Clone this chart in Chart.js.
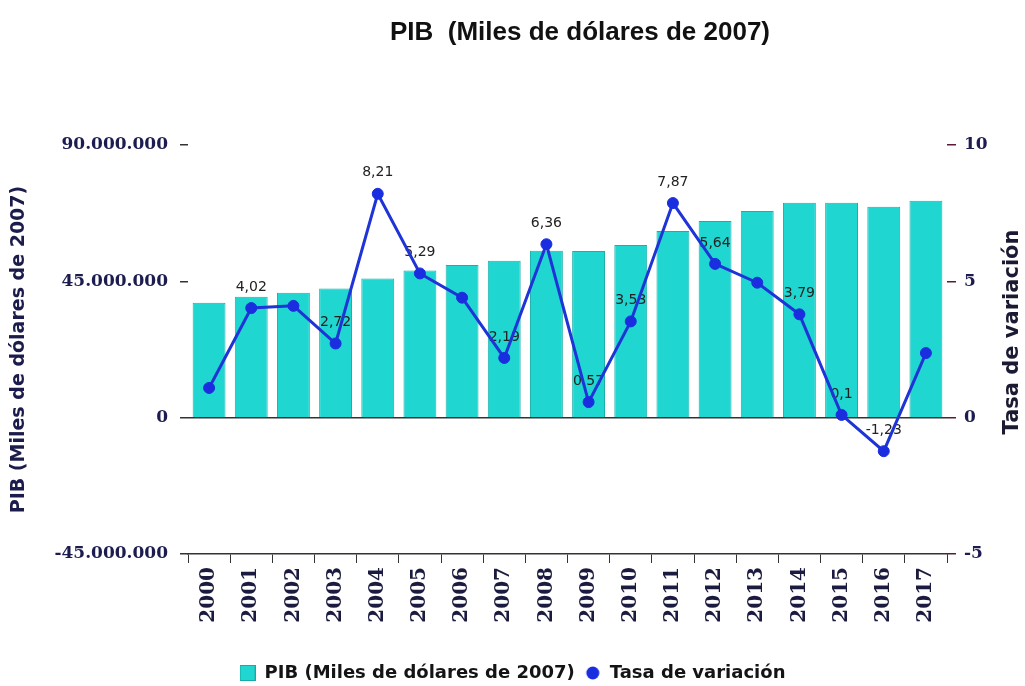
<!DOCTYPE html>
<html>
<head>
<meta charset="utf-8">
<script src="https://cdn.jsdelivr.net/npm/chart.js@4/dist/chart.umd.min.js"></script>
<style>
  html, body { margin: 0; padding: 0; background: #ffffff; }
  #wrap { width: 1025px; height: 686px; position: relative; }
</style>
</head>
<body>
<div id="wrap"><canvas id="c" width="1025" height="686"></canvas></div>
<script>
// ---- data ----
const years = ['2000','2001','2002','2003','2004','2005','2006','2007','2008','2009','2010','2011','2012','2013','2014','2015','2016','2017'];
const pib = [37900000, 39900000, 41200000, 42600000, 45900000, 48600000, 50400000, 51800000, 55100000, 55000000, 57000000, 61600000, 64900000, 68200000, 70900000, 70900000, 69600000, 71600000];
const tasa = [1.09, 4.02, 4.1, 2.72, 8.21, 5.29, 4.4, 2.19, 6.36, 0.57, 3.53, 7.87, 5.64, 4.95, 3.79, 0.1, -1.23, 2.37];
const showLabel = [false, true, false, true, true, true, false, true, true, true, true, true, true, false, true, true, true, false];
const leftTicks = [-45000000, 0, 45000000, 90000000];
const rightTicks = [-5, 0, 5, 10];

const titleText = 'PIB  (Miles de dólares de 2007)';
const pibLabel = 'PIB (Miles de dólares de 2007)';
const tasaLabel = 'Tasa de variación';

function fmtThousands(v) {
  const s = Math.abs(Math.round(v)).toString().replace(/\B(?=(\d{3})+(?!\d))/g, '.');
  return (v < 0 ? '-' : '') + s;
}

function makeSwatch(kind, color) {
  const cv = document.createElement('canvas');
  cv.width = 16; cv.height = 16;
  const g = cv.getContext('2d');
  g.fillStyle = color;
  if (kind === 'rect') {
    g.fillRect(0.5, 0.5, 15, 15);
    g.strokeStyle = '#1aa9a3';
    g.lineWidth = 1;
    g.strokeRect(0.5, 0.5, 15, 15);
  } else {
    g.beginPath(); g.arc(8, 8, 6.5, 0, Math.PI * 2); g.fill();
  }
  return cv;
}
const swatchBar = makeSwatch('rect', '#20d6d0');
const swatchDot = makeSwatch('circle', '#1a2ee0');

const labelPlugin = {
  id: 'pointLabels',
  beforeDatasetDraw(chart, args) {
    if (args.index !== 1) return;
    const meta = chart.getDatasetMeta(1);
    const ctx = chart.ctx;
    ctx.save();
    ctx.font = '14px "DejaVu Sans"';
    ctx.fillStyle = '#222222';
    ctx.textAlign = 'center';
    ctx.textBaseline = 'middle';
    meta.data.forEach((pt, i) => {
      if (!showLabel[i]) return;
      const txt = String(tasa[i]).replace('.', ',');
      ctx.fillText(txt, pt.x, pt.y - 21);
    });
    ctx.restore();
  }
};

const textPlugin = {
  id: 'extraText',
  afterDraw(chart) {
    const ctx = chart.ctx;
    ctx.save();
    // main title
    ctx.font = 'bold 26px "Liberation Sans", Arial, sans-serif';
    ctx.fillStyle = '#111111';
    ctx.textAlign = 'center';
    ctx.textBaseline = 'middle';
    ctx.fillText(titleText, 580, 33);
    // right axis title
    ctx.translate(1013, 332);
    ctx.rotate(-Math.PI / 2);
    ctx.font = 'bold 21px "DejaVu Sans"';
    ctx.fillStyle = '#1a1a33';
    ctx.fillText(tasaLabel, 0, 0);
    ctx.restore();
  }
};

new Chart(document.getElementById('c'), {
  data: {
    labels: years,
    datasets: [
      {
        type: 'bar',
        label: pibLabel,
        data: pib,
        yAxisID: 'y',
        backgroundColor: '#20d6d0',
        borderColor: '#1ab0aa',
        borderWidth: 1,
        barPercentage: 0.78,
        categoryPercentage: 1.0,
        order: 1
      },
      {
        type: 'line',
        label: tasaLabel,
        data: tasa,
        yAxisID: 'y1',
        borderColor: '#1f34d6',
        borderWidth: 3,
        pointRadius: 5.5,
        pointBackgroundColor: '#1a2ee0',
        pointBorderColor: '#1a2ee0',
        pointBorderWidth: 1,
        tension: 0,
        fill: false,
        order: 0
      }
    ]
  },
  options: {
    responsive: false,
    animation: false,
    layout: { padding: { top: 145, bottom: -6, left: 0, right: 0 } },
    plugins: {
      title: { display: false },
      legend: {
        position: 'bottom',
        labels: {
          usePointStyle: true,
          boxWidth: 16,
          boxHeight: 16,
          padding: 10,
          color: '#141414',
          font: { family: '"DejaVu Sans"', size: 18, weight: 'bold' },
          sort: (a, b) => a.datasetIndex - b.datasetIndex,
          generateLabels(chart) {
            const items = Chart.defaults.plugins.legend.labels.generateLabels(chart);
            items.forEach(it => { it.pointStyle = it.datasetIndex === 0 ? swatchBar : swatchDot; });
            return items;
          }
        }
      },
      tooltip: { enabled: false }
    },
    scales: {
      x: {
        offset: true,
        border: { display: true, color: '#333333', width: 1.5 },
        grid: { offset: true, drawOnChartArea: false, drawTicks: true, tickLength: 9, color: '#333333' },
        ticks: {
          minRotation: 90, maxRotation: 90, autoSkip: false, padding: 4,
          color: '#1b1b40',
          font: { family: '"DejaVu Serif"', size: 20, weight: 'bold' }
        },
        afterFit(scale) { scale.height = 100; }
      },
      y: {
        position: 'left',
        min: -45000000, max: 90000000,
        afterBuildTicks(scale) { scale.ticks = leftTicks.map(v => ({ value: v })); },
        border: { display: false },
        grid: {
          drawOnChartArea: true, drawTicks: true, tickLength: 8,
          color: (c) => (c.tick && c.tick.value === 0 ? '#333333' : 'rgba(0,0,0,0)'),
          tickColor: '#333333', lineWidth: 1.5
        },
        ticks: {
          padding: 12,
          color: '#1c1c50',
          font: { family: '"DejaVu Serif"', size: 17, weight: 'bold' },
          callback: (v) => fmtThousands(v)
        },
        title: {
          display: true,
          text: pibLabel,
          color: '#1c1c4c',
          font: { family: '"DejaVu Sans"', size: 19, weight: 'bold' },
          padding: { top: 8, bottom: 0 }
        },
        afterFit(scale) { scale.width = 188; }
      },
      y1: {
        position: 'right',
        min: -5, max: 10,
        afterBuildTicks(scale) { scale.ticks = rightTicks.map(v => ({ value: v })); },
        border: { display: false },
        grid: { drawOnChartArea: false, drawTicks: true, tickLength: 9, tickColor: '#5a1a3a', lineWidth: 1.5 },
        ticks: {
          padding: 8,
          color: '#1c1c50',
          font: { family: '"DejaVu Serif"', size: 17, weight: 'bold' }
        },
        afterFit(scale) { scale.width = 78; }
      }
    }
  },
  plugins: [labelPlugin, textPlugin]
});
</script>
</body>
</html>
